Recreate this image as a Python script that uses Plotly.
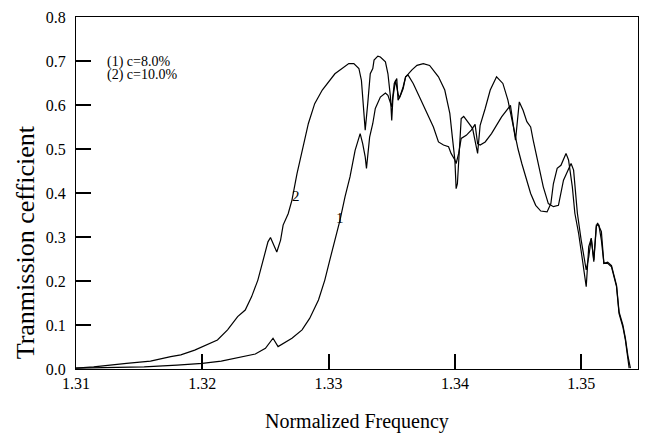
import plotly.graph_objects as go

# Curve (1) c=8.0%
x1 = [1.3100, 1.3130, 1.3154, 1.3180, 1.3200, 1.3215, 1.3228, 1.3242, 1.3250, 1.3256,
      1.3260, 1.3266, 1.3271, 1.3279, 1.3285, 1.3292, 1.3297, 1.3301, 1.3305, 1.3309,
      1.3313, 1.3317, 1.3321, 1.3325, 1.3327, 1.3329, 1.3330, 1.3331, 1.33325, 1.3335,
      1.3337, 1.3341, 1.3345, 1.3347, 1.3349, 1.3350, 1.3352, 1.3354, 1.3355, 1.3357,
      1.3359, 1.3361, 1.3363, 1.3366, 1.3370, 1.3375, 1.3380, 1.3387, 1.3392, 1.3396,
      1.3398, 1.3400, 1.3401, 1.3402, 1.3404, 1.3405, 1.3407, 1.3410, 1.3414, 1.3418,
      1.3420, 1.3424, 1.3428, 1.3433, 1.3438, 1.3442, 1.3445, 1.3447, 1.3450, 1.3453,
      1.3457, 1.3460, 1.3464, 1.3468, 1.3473, 1.3476, 1.3478, 1.3481, 1.3484, 1.3488,
      1.3490, 1.3493, 1.3495, 1.3498, 1.3501, 1.3504, 1.3506, 1.3508, 1.3510, 1.3512,
      1.3513, 1.3516, 1.3518, 1.3521, 1.3524, 1.3528, 1.3530, 1.3533, 1.3535, 1.3537,
      1.3538]
y1 = [0.002, 0.003, 0.005, 0.009, 0.013, 0.018, 0.026, 0.034, 0.047, 0.070,
      0.051, 0.062, 0.070, 0.089, 0.115, 0.157, 0.202, 0.248, 0.293, 0.338,
      0.391, 0.437, 0.497, 0.535, 0.512, 0.482, 0.456, 0.490, 0.527, 0.558,
      0.592, 0.618, 0.627, 0.622, 0.603, 0.596, 0.649, 0.660, 0.611, 0.622,
      0.637, 0.664, 0.670, 0.680, 0.690, 0.694, 0.690, 0.664, 0.634, 0.581,
      0.527, 0.475, 0.410, 0.421, 0.520, 0.569, 0.574, 0.562, 0.547, 0.490,
      0.554, 0.592, 0.634, 0.664, 0.649, 0.611, 0.569, 0.535, 0.500, 0.467,
      0.429, 0.399, 0.372, 0.359, 0.357, 0.376, 0.421, 0.456, 0.463, 0.490,
      0.475, 0.414, 0.354, 0.308, 0.248, 0.187, 0.278, 0.297, 0.244, 0.323,
      0.332, 0.312, 0.240, 0.240, 0.232, 0.187, 0.126, 0.096, 0.066, 0.028,
      0.002]

# Curve (2) c=10.0%
x2 = [1.3100, 1.3114, 1.3140, 1.3159, 1.3175, 1.3183, 1.3194, 1.3202, 1.3212, 1.3220,
      1.3228, 1.3234, 1.3239, 1.3244, 1.3248, 1.3252, 1.3254, 1.3256, 1.3259, 1.3262,
      1.3264, 1.3268, 1.3271, 1.3275, 1.3279, 1.3284, 1.3289, 1.3295, 1.3305, 1.3316,
      1.3320, 1.3324, 1.3326, 1.3328, 1.3329, 1.3331, 1.3333, 1.3335, 1.3336, 1.3339,
      1.3341, 1.3345, 1.3347, 1.3349, 1.3350, 1.3351, 1.3353, 1.3355, 1.3356, 1.3359,
      1.3361, 1.3363, 1.3367, 1.3372, 1.3377, 1.3383, 1.3387, 1.3391, 1.3395, 1.3397,
      1.3400, 1.3401, 1.3403, 1.3405, 1.3409, 1.3413, 1.3416, 1.3418, 1.3420, 1.3424,
      1.3429, 1.3437, 1.3444, 1.3448, 1.3451, 1.3454, 1.3457, 1.3460, 1.3462, 1.3466,
      1.3470, 1.3474, 1.3478, 1.3482, 1.3486, 1.3492, 1.3494, 1.3497, 1.3500, 1.3504,
      1.3506, 1.3508, 1.3510, 1.3512, 1.3514, 1.3516, 1.3518, 1.3521, 1.3524, 1.3528,
      1.3530, 1.3533, 1.3535, 1.3537, 1.3539]
y2 = [0.002, 0.005, 0.013, 0.018, 0.028, 0.032, 0.043, 0.053, 0.066, 0.089,
      0.119, 0.134, 0.164, 0.202, 0.244, 0.289, 0.299, 0.285, 0.266, 0.293,
      0.327, 0.353, 0.384, 0.444, 0.497, 0.558, 0.603, 0.634, 0.671, 0.694,
      0.694, 0.683, 0.656, 0.588, 0.543, 0.603, 0.671, 0.683, 0.702, 0.711,
      0.709, 0.698, 0.671, 0.618, 0.565, 0.618, 0.656, 0.626, 0.615, 0.641,
      0.664, 0.668, 0.649, 0.618, 0.588, 0.550, 0.516, 0.509, 0.505, 0.490,
      0.475, 0.467, 0.490, 0.524, 0.531, 0.543, 0.556, 0.512, 0.509, 0.516,
      0.535, 0.573, 0.599, 0.520, 0.607, 0.588, 0.562, 0.550, 0.520, 0.467,
      0.414, 0.376, 0.369, 0.372, 0.429, 0.467, 0.452, 0.354, 0.293, 0.225,
      0.255, 0.297, 0.248, 0.327, 0.327, 0.293, 0.240, 0.243, 0.235, 0.190,
      0.130, 0.100, 0.070, 0.030, 0.002]

x_ticks = [1.31, 1.32, 1.33, 1.34, 1.35]
x_tick_text = ["1.31", "1.32", "1.33", "1.34", "1.35"]
y_ticks = [0.0, 0.1, 0.2, 0.3, 0.4, 0.5, 0.6, 0.7, 0.8]

FONT = "Liberation Serif, Times New Roman, serif"

fig = go.Figure()
for xs, ys in ((x1, y1), (x2, y2)):
    fig.add_trace(go.Scatter(x=xs, y=ys, mode="lines",
                             line=dict(color="black", width=1.2),
                             showlegend=False, hoverinfo="skip"))

axis_common = dict(showline=True, mirror=True, linecolor="black", linewidth=1.3,
                   ticks="inside", ticklen=15, tickwidth=2, tickcolor="#000000",
                   showgrid=False, zeroline=False, automargin=False,
                   tickfont=dict(family=FONT, size=16, color="black"))

fig.update_xaxes(range=[1.31, 1.3545], tickvals=x_ticks, ticktext=x_tick_text,
                 **axis_common)
fig.update_yaxes(range=[0, 0.8], tickvals=y_ticks, tickformat=".1f",
                 ticklabelstandoff=6, **axis_common)

annotations = [
    dict(text="(1) c=8.0%", x=0.052, y=0.871, xref="paper", yref="paper",
         xanchor="left", yanchor="middle", showarrow=False,
         font=dict(family=FONT, size=14, color="black")),
    dict(text="(2) c=10.0%", x=0.052, y=0.834, xref="paper", yref="paper",
         xanchor="left", yanchor="middle", showarrow=False,
         font=dict(family=FONT, size=14, color="black")),
    dict(text="2", x=1.3274, y=0.393, xref="x", yref="y", showarrow=False,
         font=dict(family=FONT, size=15, color="black")),
    dict(text="1", x=1.3309, y=0.343, xref="x", yref="y", showarrow=False,
         font=dict(family=FONT, size=15, color="black")),
    dict(text="Normalized Frequency", x=0.5, y=-0.148, xref="paper", yref="paper",
         xanchor="center", yanchor="middle", showarrow=False,
         font=dict(family=FONT, size=20, color="black")),
    dict(text="Tranmission cefficient", x=-0.0907, y=0.36, xref="paper", yref="paper",
         xanchor="center", yanchor="middle", showarrow=False, textangle=-90,
         font=dict(family=FONT, size=26, color="black")),
]

# The page body adds an 8 px margin, so the figure is 8 px smaller each way
fig.update_layout(width=641, height=426,
                  margin=dict(l=68, r=11, t=9, b=65),
                  paper_bgcolor="white", plot_bgcolor="white",
                  template="none",
                  annotations=annotations)

fig.write_html("out.html")
